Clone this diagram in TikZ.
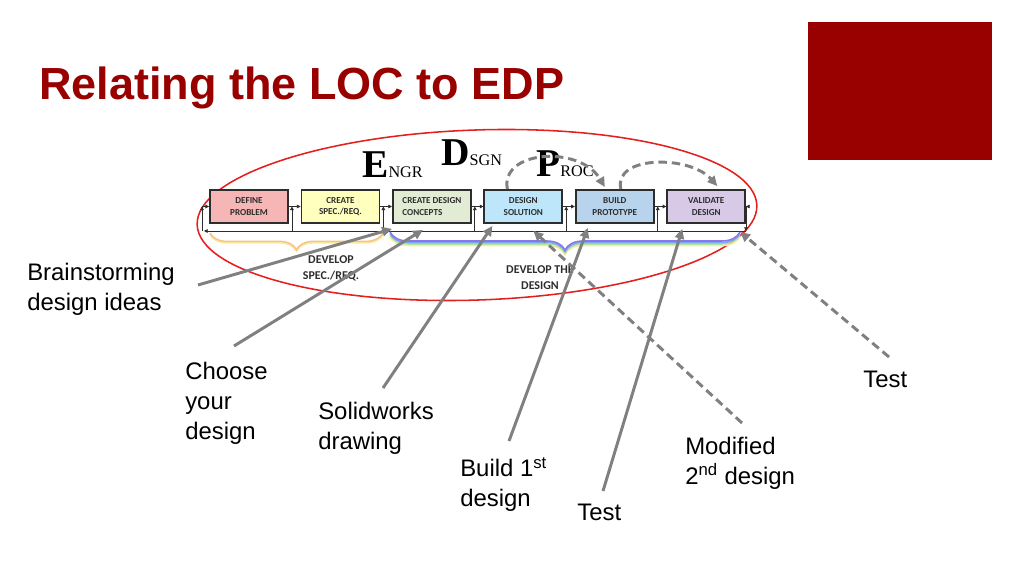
\documentclass[tikz,border=0pt]{standalone}
\usepackage{fontspec}
\setmainfont{Liberation Sans}
\newfontfamily\serifletters{Liberation Serif}
\newfontfamily\stagefont{Carlito}
\usetikzlibrary{arrows.meta, positioning, calc, decorations.pathreplacing}
\definecolor{edpRed}{RGB}{153, 0, 0}
\definecolor{edpRing}{RGB}{228, 32, 30}
\definecolor{edpGray}{RGB}{128, 128, 128}
\definecolor{edpInk}{RGB}{45, 45, 45}
\definecolor{edpPink}{RGB}{246, 182, 182}
\definecolor{edpYellow}{RGB}{255, 255, 190}
\definecolor{edpSage}{RGB}{226, 236, 212}
\definecolor{edpCyan}{RGB}{190, 230, 250}
\definecolor{edpSteel}{RGB}{184, 212, 236}
\definecolor{edpLilac}{RGB}{216, 202, 230}
\definecolor{edpOrange}{RGB}{248, 196, 130}
\definecolor{edpCream}{RGB}{252, 234, 160}
\definecolor{edpPurple}{RGB}{140, 118, 232}
\definecolor{edpBlue}{RGB}{120, 168, 240}
\definecolor{edpMint}{RGB}{176, 228, 156}
\tikzset{
  stagebox/.style={rectangle, draw=edpInk, line width=1.3pt, fill=#1, minimum width=1.95cm, minimum height=0.825cm, inner sep=1pt, align=center, text=edpInk, font=\stagefont\bfseries\fontsize{6.5}{8}\selectfont},
  stagebox/.default=white,
  tinyarrow/.style={-{Triangle[length=2.6pt, width=2.6pt]}, line width=0.55pt, edpInk},
  pointer/.style={-{Triangle[length=7pt, width=6.5pt]}, line width=2.1pt, edpGray},
  dashpointer/.style={pointer, dash pattern=on 6pt off 3.5pt},
  calloutlabel/.style={anchor=north west, inner sep=0pt, align=left, font=\fontsize{17}{21.3}\selectfont},
  phaselabel/.style={align=center, inner sep=0pt, text=edpInk, font=\stagefont\bfseries\fontsize{8.5}{11.5}\selectfont},
  rainbow/.style={decorate, decoration={brace, mirror, amplitude=#1}, line width=1.1pt},
  rainbow/.default=0.45cm,
}
\begin{document}
\begin{tikzpicture}[x=0.025cm, y=-0.025cm]
  \useasboundingbox[fill=white] (0,0) rectangle (1024,576);
  % title and corner block
  \node[anchor=base west, inner sep=0pt, text=edpRed, font=\bfseries\fontsize{32}{32}\selectfont] (title) at (39,100) {Relating the LOC to EDP};
  \fill[edpRed] (808,22) rectangle (992,160);
  % ring round the process
  \draw[edpRing, line width=1.1pt, rotate around={2:(477,215)}] (477,215) ellipse [x radius=280, y radius=85];
  % letters
  \node[anchor=base west, inner sep=0pt] (engr) at (362,178) {\serifletters{\fontsize{28}{28}\selectfont\bfseries E}{\fontsize{11.5}{11.5}\selectfont NGR}};
  \node[anchor=base west, inner sep=0pt] (dsgn) at (441,166) {\serifletters{\fontsize{28}{28}\selectfont\bfseries D}{\fontsize{11.5}{11.5}\selectfont SGN}};
  \node[anchor=base west, inner sep=0pt] (proc) at (536,177) {\serifletters{\fontsize{28}{28}\selectfont\bfseries P}{\fontsize{11.5}{11.5}\selectfont ROC}};
  % stages
  \node[stagebox=edpPink] (define) at (249,206.5) {DEFINE\\PROBLEM};
  \node[stagebox=edpYellow, right=0.29cm of define] (spec) {CREATE\\SPEC./REQ.};
  \node[stagebox=edpSage, align=left, right=0.29cm of spec] (concepts) {CREATE DESIGN\\CONCEPTS};
  \node[stagebox=edpCyan, right=0.29cm of concepts] (solution) {DESIGN\\SOLUTION};
  \node[stagebox=edpSteel, right=0.29cm of solution] (prototype) {BUILD\\PROTOTYPE};
  \node[stagebox=edpLilac, right=0.29cm of prototype] (validate) {VALIDATE\\DESIGN};
  % feedback line
  \coordinate (fb-east) at (746,231);
  \coordinate (fb-west) at (204,231);
  \coordinate (fb-corner) at (202,231);
  \coordinate (fb-in) at (202,206.5);
  \coordinate (fb-out) at (746,206.5);
  \draw[tinyarrow] (fb-east) -- (fb-west);
  \draw[tinyarrow] (fb-corner) -- (fb-in);
  \draw[tinyarrow] (fb-in) -- (define.west);
  \draw[tinyarrow] (validate.east) -- (fb-out);
  \draw[tinyarrow] (fb-out) -- (fb-east);
  \coordinate (gap1) at ($(define.east)+(3,0)$);
  \coordinate (gap2) at ($(spec.east)+(3,0)$);
  \coordinate (gap3) at ($(concepts.east)+(3,0)$);
  \coordinate (gap4) at ($(solution.east)+(3,0)$);
  \coordinate (gap5) at ($(prototype.east)+(3,0)$);
  \draw[tinyarrow] (define.east) -- (spec.west);
  \draw[tinyarrow] (spec.east) -- (concepts.west);
  \draw[tinyarrow] (concepts.east) -- (solution.west);
  \draw[tinyarrow] (solution.east) -- (prototype.west);
  \draw[tinyarrow] (prototype.east) -- (validate.west);
  \draw[tinyarrow] (gap1 |- fb-east) -- (gap1);
  \draw[tinyarrow] (gap2 |- fb-east) -- (gap2);
  \draw[tinyarrow] (gap3 |- fb-east) -- (gap3);
  \draw[tinyarrow] (gap4 |- fb-east) -- (gap4);
  \draw[tinyarrow] (gap5 |- fb-east) -- (gap5);
  % braces
  \draw[rainbow=0.42cm, edpCream] (210,234.5) -- (383,234.5);
  \draw[rainbow=0.42cm, edpOrange] (210,233) -- (383,233);
  \draw[rainbow, edpCream] (390,236.5) -- (740,236.5);
  \draw[rainbow, edpMint] (390,235) -- (740,235);
  \draw[rainbow, edpBlue] (390,233.5) -- (740,233.5);
  \draw[rainbow, edpPurple] (390,232) -- (740,232);
  \node[phaselabel] (devspec) at (331,268) {DEVELOP\\SPEC./REQ.};
  \node[phaselabel] (devdesign) at (540,278) {DEVELOP THE\\DESIGN};
  % loops back
  \draw[dashpointer] ([shift={(-16,0)}]solution.north) .. controls (500,150) and (580,145) .. ([shift={(-10,-2)}]prototype.north);
  \draw[dashpointer] ([shift={(6,0)}]prototype.north) .. controls (613,155) and (690,155) .. ([shift={(11,-3)}]validate.north);
  % callouts
  \node[calloutlabel] (brain) at (27,263) {Brainstorming\\design ideas};
  \node[calloutlabel] (choose) at (185,362) {Choose\\your\\design};
  \node[calloutlabel] (solid) at (318,402) {Solidworks\\drawing};
  \node[calloutlabel] (build) at (460,457) {Build 1\textsuperscript{st}\\design};
  \node[calloutlabel] (test) at (577,504) {Test};
  \node[calloutlabel] (modified) at (685,437) {Modified\\2\textsuperscript{nd} design};
  \node[calloutlabel] (retest) at (863,371) {Test};
  \coordinate (brain-tail) at (198,285);
  \coordinate (choose-tail) at (234,346);
  \coordinate (solid-tail) at (383,388);
  \coordinate (build-tail) at (509,441);
  \coordinate (test-tail) at (603,491);
  \coordinate (modified-tail) at (742,423);
  \coordinate (retest-tail) at (889,357);
  \draw[pointer] (brain-tail) -- ([shift={(0,5)}]concepts.south west);
  \draw[pointer] (choose-tail) -- ([shift={(-9,6)}]concepts.south);
  \draw[pointer] (solid-tail) -- ([shift={(9,2)}]solution.south west);
  \draw[pointer] (build-tail) -- ([shift={(-27,4)}]prototype.south);
  \draw[pointer] (test-tail) -- ([shift={(-24,5)}]validate.south);
  \draw[dashpointer] (modified-tail) -- ([shift={(10,7)}]solution.south);
  \draw[dashpointer] (retest-tail) -- ([shift={(-6,8)}]validate.south east);
\end{tikzpicture}
\end{document}
